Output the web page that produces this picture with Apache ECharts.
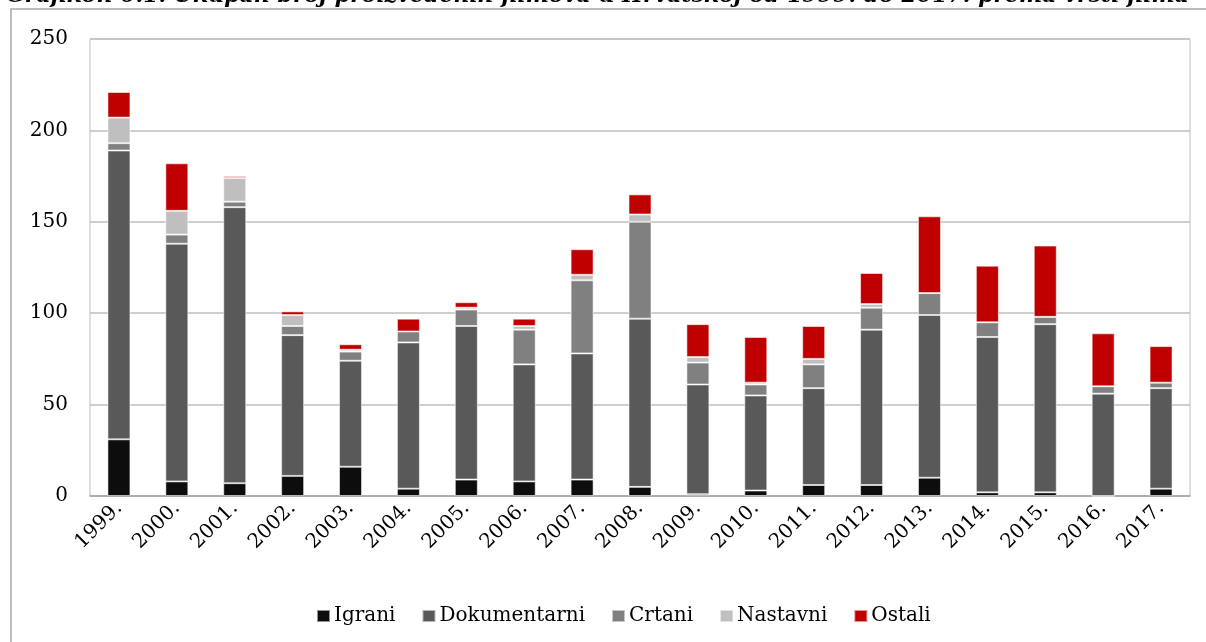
<!DOCTYPE html>
<html>
<head>
<meta charset="utf-8">
<script src="https://cdn.jsdelivr.net/npm/echarts@6/dist/echarts.min.js"></script>
<style>
  html, body { margin: 0; padding: 0; background: #fff; }
  #chart { width: 1206px; height: 642px; }
</style>
</head>
<body>
<div id="chart"></div>
<script>
var years = ['1999.', '2000.', '2001.', '2002.', '2003.', '2004.', '2005.', '2006.', '2007.', '2008.',
             '2009.', '2010.', '2011.', '2012.', '2013.', '2014.', '2015.', '2016.', '2017.'];
var igrani       = [31, 8, 7, 11, 16, 4, 9, 8, 9, 5, 1, 3, 6, 6, 10, 2, 2, 0, 4];
var dokumentarni = [158, 130, 151, 77, 58, 80, 84, 64, 69, 92, 60, 52, 53, 85, 89, 85, 92, 56, 55];
var crtani       = [4, 5, 3, 5, 5, 6, 9, 19, 40, 53, 12, 6, 13, 12, 12, 8, 4, 4, 3];
var nastavni     = [14, 13, 13, 6, 1, 0, 1, 2, 3, 4, 3, 1, 3, 2, 0, 0, 0, 0, 0];
var ostali       = [14, 26, 1, 2, 3, 7, 3, 4, 14, 11, 18, 25, 18, 17, 42, 31, 39, 29, 20];
var yTicks = { min: 0, max: 250, step: 50 };

var font = 'DejaVu Serif';

function stackSeries(name, data, color) {
    return {
        name: name,
        type: 'bar',
        stack: 'total',
        barWidth: 23,
        data: data,
        itemStyle: { color: color, borderColor: 'rgba(255,255,255,0.55)', borderWidth: 1 },
        emphasis: { disabled: true }
    };
}

var chart = echarts.init(document.getElementById('chart'));
chart.setOption({
    animation: false,
    backgroundColor: '#fff',
    title: {
        left: 1,
        top: -20,
        text: '{b|Grafikon 6.1. }{i|Ukupan broj proizvedenih filmova u Hrvatskoj od 1999. do 2017. prema vrsti filma}',
        textStyle: {
            rich: {
                b: { fontFamily: font, fontSize: 22, fontStyle: 'italic', fontWeight: 'bold', color: '#000' },
                i: { fontFamily: font, fontSize: 22, fontStyle: 'italic', color: '#000' }
            }
        }
    },
    graphic: [{
        type: 'rect',
        z: -1,
        shape: { x: 11, y: 9, width: 1400, height: 900 },
        style: { fill: null, stroke: '#a6a6a6', lineWidth: 1.5 }
    }],
    legend: {
        left: 311,
        top: 601,
        itemWidth: 13,
        itemHeight: 12,
        itemGap: 26,
        icon: 'rect',
        textStyle: { fontFamily: font, fontSize: 20, color: '#000', padding: [0, 0, 0, -1] },
        data: ['Igrani', 'Dokumentarni', 'Crtani', 'Nastavni', 'Ostali']
    },
    grid: {
        left: 90,
        right: 16,
        top: 39,
        bottom: 146,
        show: true,
        borderColor: '#bfbfbf',
        borderWidth: 1
    },
    xAxis: {
        type: 'category',
        data: years,
        axisLine: { lineStyle: { color: '#a6a6a6', width: 1.5 } },
        axisTick: { show: false },
        axisLabel: {
            rotate: 45,
            margin: 9,
            interval: 0,
            fontFamily: font,
            fontSize: 20,
            color: '#000'
        }
    },
    yAxis: {
        type: 'value',
        min: yTicks.min,
        max: yTicks.max,
        interval: yTicks.step,
        axisLine: { show: false },
        axisTick: { show: false },
        splitLine: { lineStyle: { color: '#bfbfbf', width: 1.5 } },
        axisLabel: { margin: 22, fontFamily: font, fontSize: 20, color: '#000' }
    },
    series: [
        stackSeries('Igrani', igrani, '#0d0d0d'),
        stackSeries('Dokumentarni', dokumentarni, '#595959'),
        stackSeries('Crtani', crtani, '#808080'),
        stackSeries('Nastavni', nastavni, '#bfbfbf'),
        stackSeries('Ostali', ostali, '#c00000')
    ]
});
</script>
</body>
</html>
